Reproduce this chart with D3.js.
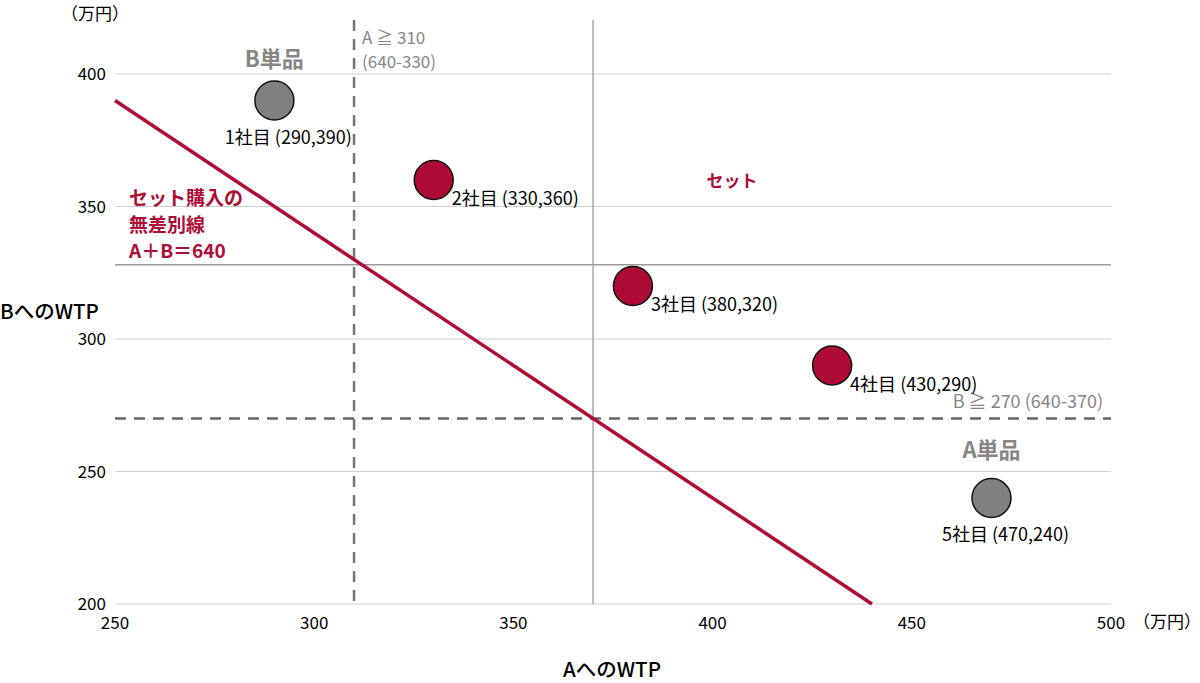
<!DOCTYPE html>
<html>
<head>
<meta charset="utf-8">
<script src="https://cdn.jsdelivr.net/npm/d3@7"></script>
<style>
body { margin: 0; background: #fff; }
text { font-family: "Noto Sans CJK JP", "Noto Sans", sans-serif; }
</style>
</head>
<body>
<div id="chart"></div>
<script>
// WTP for A and B, five companies
var companies = ["1社目", "2社目", "3社目", "4社目", "5社目"];
var wtpA = [290, 330, 380, 430, 470];
var wtpB = [390, 360, 320, 290, 240];
var buysSet = [false, true, true, true, false];
var labelSide = ["below", "right", "right", "right", "below"];

var xTicks = [250, 300, 350, 400, 450, 500];
var yTicks = [200, 250, 300, 350, 400];

var bundlePrice = 640;
var lineA = [250, 440];          // A range of indifference line
var thresholdA = 310;            // A >= 640-330
var thresholdB = 270;            // B >= 640-370
var solidX = 370;
var solidY = 328;

var width = 1200, height = 683;
var margin = { top: 20, left: 115, right: 89, bottom: 79 };

var red = "#ad0d36";
var gray = "#868686";

var x = d3.scaleLinear().domain([250, 500]).range([margin.left, width - margin.right]);
var y = d3.scaleLinear().domain([200, 400]).range([604, 74]);

var svg = d3.select("#chart").append("svg")
    .attr("width", width)
    .attr("height", height);

// grid lines
svg.append("g").selectAll("line").data(yTicks).enter().append("line")
    .attr("x1", x(250)).attr("x2", x(500))
    .attr("y1", function(d) { return y(d) }).attr("y2", function(d) { return y(d) })
    .attr("stroke", "#cfcfcf").attr("stroke-width", 1);

// y tick labels
svg.append("g").selectAll("text").data(yTicks).enter().append("text")
    .attr("x", 106).attr("y", function(d) { return y(d) + 6 })
    .attr("text-anchor", "end")
    .attr("font-size", 17)
    .text(function(d) { return d });

// x tick labels
svg.append("g").selectAll("text").data(xTicks).enter().append("text")
    .attr("x", function(d) { return x(d) }).attr("y", 629)
    .attr("text-anchor", "middle")
    .attr("font-size", 17)
    .text(function(d) { return d });

// units
svg.append("text").attr("x", 61).attr("y", 20).attr("font-size", 17).text("（万円）");
svg.append("text").attr("x", 1133).attr("y", 628).attr("font-size", 17).text("（万円）");

// axis titles
svg.append("text").attr("x", 0).attr("y", 319).attr("font-size", 20.5).attr("font-weight", 500).text("BへのWTP");
svg.append("text").attr("x", 612).attr("y", 677).attr("text-anchor", "middle")
    .attr("font-size", 20.5).attr("font-weight", 500).text("AへのWTP");

// solid reference lines
svg.append("line")
    .attr("x1", x(solidX)).attr("x2", x(solidX))
    .attr("y1", 20).attr("y2", y(200))
    .attr("stroke", "#a8a8a8").attr("stroke-width", 1.5);
svg.append("line")
    .attr("x1", x(250)).attr("x2", x(500))
    .attr("y1", y(solidY)).attr("y2", y(solidY))
    .attr("stroke", "#9a9a9a").attr("stroke-width", 1.5);

// dashed threshold lines
svg.append("line")
    .attr("x1", x(thresholdA)).attr("x2", x(thresholdA))
    .attr("y1", 20).attr("y2", y(200))
    .attr("stroke", "#777").attr("stroke-width", 2.5)
    .attr("stroke-dasharray", "11,8");
svg.append("line")
    .attr("x1", x(250)).attr("x2", x(500))
    .attr("y1", y(thresholdB)).attr("y2", y(thresholdB))
    .attr("stroke", "#666").attr("stroke-width", 2.5)
    .attr("stroke-dasharray", "11,8");

// threshold labels
svg.append("text").attr("x", x(thresholdA) + 8).attr("y", 44)
    .attr("font-size", 17).attr("fill", gray).text("A ≧ 310");
svg.append("text").attr("x", x(thresholdA) + 8).attr("y", 68)
    .attr("font-size", 17).attr("fill", gray).text("(640-330)");
svg.append("text").attr("x", 1103).attr("y", 408).attr("text-anchor", "end")
    .attr("font-size", 18).attr("fill", gray).text("B ≧ 270 (640-370)");

// indifference line A+B=640
svg.append("line")
    .attr("x1", x(lineA[0])).attr("y1", y(bundlePrice - lineA[0]))
    .attr("x2", x(lineA[1])).attr("y2", y(bundlePrice - lineA[1]))
    .attr("stroke", red).attr("stroke-width", 3.5);

var redLabel = ["セット購入の", "無差別線", "A＋B＝640"];
svg.append("g").selectAll("text").data(redLabel).enter().append("text")
    .attr("x", 129).attr("y", function(d, i) { return 205 + i * 26.5 })
    .attr("font-size", 19).attr("font-weight", "bold").attr("fill", red)
    .text(function(d) { return d });

// region labels
svg.append("text").attr("x", 732).attr("y", 187).attr("text-anchor", "middle")
    .attr("font-size", 17).attr("font-weight", "bold").attr("fill", red).text("セット");
svg.append("text").attr("x", x(290)).attr("y", 67).attr("text-anchor", "middle")
    .attr("font-size", 22).attr("font-weight", "bold").attr("fill", gray).text("B単品");
svg.append("text").attr("x", x(470)).attr("y", 458).attr("text-anchor", "middle")
    .attr("font-size", 22).attr("font-weight", "bold").attr("fill", gray).text("A単品");

// points
var pts = svg.append("g").selectAll("g").data(companies).enter().append("g");

pts.append("circle")
    .attr("cx", function(d, i) { return x(wtpA[i]) })
    .attr("cy", function(d, i) { return y(wtpB[i]) })
    .attr("r", 19.5)
    .attr("fill", function(d, i) { return buysSet[i] ? "#ad0b35" : "#808080" })
    .attr("stroke", "#111").attr("stroke-width", 1.5);

pts.append("text")
    .attr("x", function(d, i) { return labelSide[i] == "below" ? x(wtpA[i]) + 14 : x(wtpA[i]) + 18 })
    .attr("y", function(d, i) { return labelSide[i] == "below" ? y(wtpB[i]) + 43 : y(wtpB[i]) + 25 })
    .attr("text-anchor", function(d, i) { return labelSide[i] == "below" ? "middle" : "start" })
    .attr("font-size", 18)
    .text(function(d, i) { return d + " (" + wtpA[i] + "," + wtpB[i] + ")" });
</script>
</body>
</html>
